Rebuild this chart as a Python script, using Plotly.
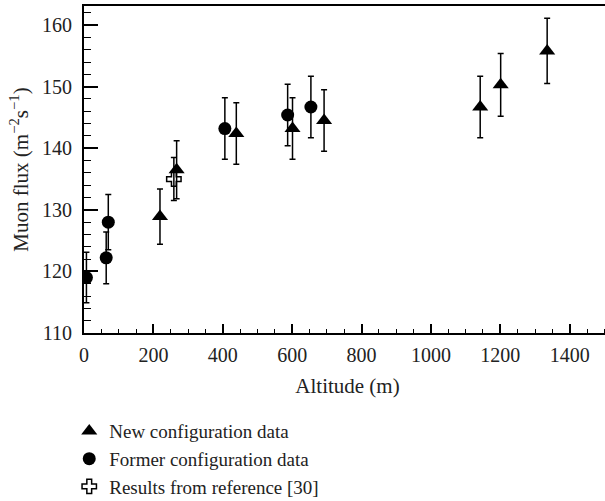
import plotly.graph_objects as go

# altitude (m), muon flux (m^-2 s^-1), error
new_alt = [219, 267, 439, 601, 692, 1142, 1201, 1335]
new_flux = [128.9, 136.5, 142.4, 143.2, 144.5, 146.7, 150.3, 155.8]
new_err = [4.5, 4.7, 5.0, 5.0, 5.0, 5.0, 5.1, 5.3]

old_alt = [7, 64, 70, 406, 587, 654]
old_flux = [119.0, 122.2, 128.0, 143.2, 145.4, 146.7]
old_err = [4.1, 4.2, 4.5, 5.0, 5.0, 5.0]

ref_alt = [259]
ref_flux = [135.0]
ref_err = [3.5]

fnt = "Liberation Serif"

def errs(e):
    return dict(type="data", array=e, visible=True, color="black",
                thickness=1.5, width=3)

fig = go.Figure()
fig.add_trace(go.Scatter(x=new_alt, y=new_flux, error_y=errs(new_err),
                         mode="markers", name="New configuration data",
                         marker=dict(symbol="triangle-up", size=14, color="black")))
fig.add_trace(go.Scatter(x=old_alt, y=old_flux, error_y=errs(old_err),
                         mode="markers", name="Former configuration data",
                         marker=dict(symbol="circle", size=13, color="black")))
fig.add_trace(go.Scatter(x=ref_alt, y=ref_flux, error_y=errs(ref_err),
                         mode="markers", name="Results from reference [30]",
                         marker=dict(symbol="cross-open", size=12, color="black",
                                     line=dict(width=1.5, color="black"))))

# the frame is cut on the right in the original, so the figure is a bit
# wider than the window and the overflow is hidden
fig.update_layout(
    width=611, height=501,
    margin=dict(l=84, r=0, t=6, b=168, autoexpand=False),
    plot_bgcolor="white", paper_bgcolor="white",
    font=dict(family=fnt, size=20, color="#222"),
    showlegend=True,
    legend=dict(x=-0.028, y=-0.242, xanchor="left", yanchor="top",
                font=dict(size=19), bgcolor="rgba(0,0,0,0)",
                tracegroupgap=0),
    xaxis=dict(range=[0, 1519], tickvals=list(range(0, 1401, 200)),
               showline=True, linewidth=2, linecolor="black", mirror=True,
               ticks="inside", ticklen=9, tickwidth=1.5, tickcolor="black",
               minor=dict(dtick=50, ticks="inside", ticklen=4, tickwidth=1.2,
                          tickcolor="black"),
               showgrid=False, zeroline=False, ticklabelstandoff=3,
               automargin=False,
               title=dict(text="Altitude (m)", font=dict(size=21), standoff=13)),
    yaxis=dict(range=[110, 163.1], tickvals=list(range(110, 161, 10)),
               showline=True, linewidth=2, linecolor="black", mirror=False,
               ticks="inside", ticklen=14, tickwidth=1.5, tickcolor="black",
               minor=dict(dtick=2, ticks="inside", ticklen=7, tickwidth=1.2,
                          tickcolor="black"),
               showgrid=False, zeroline=False, ticklabelstandoff=6,
               automargin=False,
               title=dict(text="Muon flux (m<sup>−2</sup>s<sup>−1</sup>)",
                          font=dict(size=21), standoff=8)),
)

# page has a default 8px body margin, drop it so the figure sits at 0,0
fig.write_html("out.html", config={"displayModeBar": False},
               post_script="document.body.style.margin='0';document.body.style.overflow='hidden';")
